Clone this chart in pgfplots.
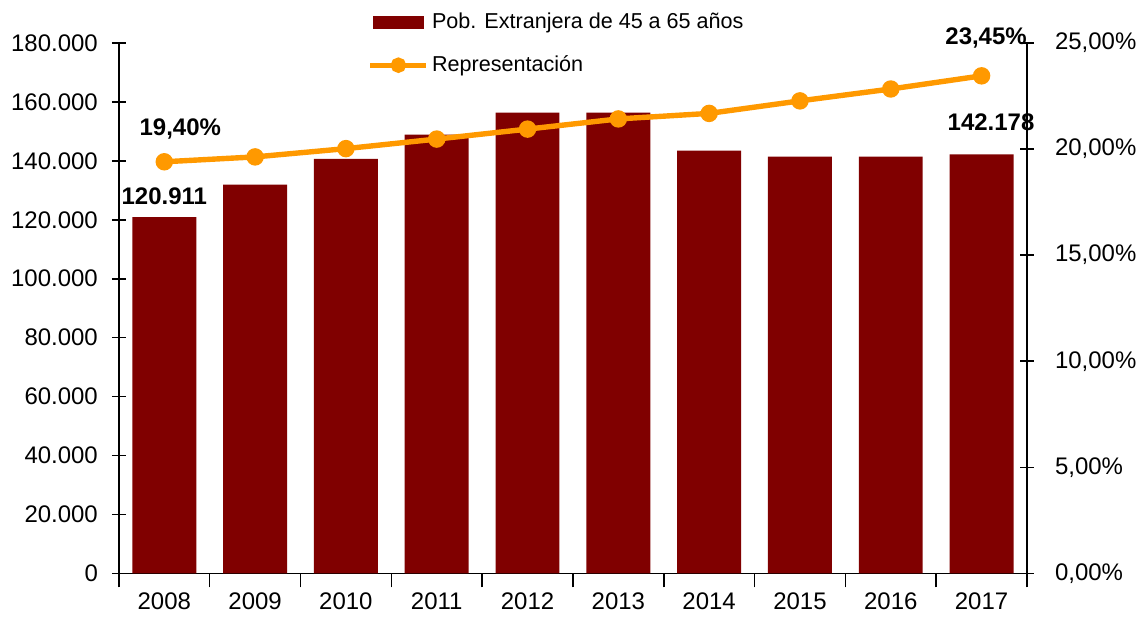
\documentclass[border=0pt]{standalone}
\usepackage{fontspec}
\setmainfont{Liberation Sans}
\usepackage{pgfplots}
\usepackage{pgfplotstable}
\pgfplotsset{compat=1.18}
\definecolor{barc}{HTML}{800000}
\definecolor{linec}{HTML}{FF9900}

\pgfplotstableread{
x pob rep
0 120911 19.40
1 131900 19.63
2 140700 20.02
3 148900 20.47
4 156400 20.94
5 156400 21.42
6 143500 21.68
7 141400 22.27
8 141400 22.83
9 142178 23.45
}\datatable

\pgfplotsset{
  base/.style={
    scale only axis, width=454.5pt, height=265.5pt,
    xmin=-0.5, xmax=9.5, clip=false,
    tick align=center, major tick length=7pt,
    tick style={black, line width=0.8pt},
    axis line style={black, line width=0.8pt},
    tick label style={font=\fontsize{12}{14}\selectfont},
  },
}

\begin{document}
\begin{tikzpicture}
\begin{axis}[base,
  ymin=0, ymax=180000,
  axis x line*=bottom, axis y line*=left,
  scaled y ticks=false,
  ytick={0,20000,40000,60000,80000,100000,120000,140000,160000,180000},
  yticklabels={0,20.000,40.000,60.000,80.000,100.000,120.000,140.000,160.000,180.000},
  yticklabel style={xshift=-3.5pt},
  xtick={-0.5,0.5,...,9.5}, xticklabels={},
  extra x ticks={0,...,9},
  extra x tick labels={2008,2009,2010,2011,2012,2013,2014,2015,2016,2017},
  extra x tick style={major tick length=0pt, tick label style={yshift=-6pt}},
  ybar, bar width=32pt,
]
\addplot[fill=barc, draw=none] table[x=x, y=pob] {\datatable};
\node[anchor=base, inner sep=0pt, font=\bfseries\fontsize{12}{14}\selectfont, yshift=6.2pt] at (axis cs:0,120911) {120.911};
\node[anchor=base, inner sep=0pt, font=\bfseries\fontsize{12}{14}\selectfont, xshift=4.75pt, yshift=11.8pt] at (axis cs:9,142178) {142.178};
\end{axis}

\begin{axis}[base,
  ymin=0, ymax=25,
  axis x line=none, axis y line*=right,
  ytick={0,5,10,15,20,25},
  yticklabels={{0,00\%},{5,00\%},{10,00\%},{15,00\%},{20,00\%},{25,00\%}},
  yticklabel style={xshift=7pt},
  legend style={draw=none, fill=none, at={(0.267,1.072)}, anchor=north west,
    font=\fontsize{10.8}{12}\selectfont, row sep=8pt, nodes={inner xsep=1.5pt}},
  legend cell align=left,
]
\addlegendimage{legend image code/.code={\fill[barc] (0pt,-3pt) rectangle (25pt,3pt);}}
\addlegendentry{Pob. Extranjera de 45 a 65 años}
\addplot[linec, line width=2.7pt, mark=*, mark size=3pt, mark options={fill=linec, draw=linec},
  legend image code/.code={\draw[linec, line width=2.7pt] (-1.5pt,0pt) -- (26.5pt,0pt); \fill[linec] (12.5pt,0pt) circle (2.5pt);}]
  table[x=x, y=rep] {\datatable};
\addlegendentry{Representación}
\node[anchor=base, inner sep=0pt, font=\bfseries\fontsize{12}{14}\selectfont, xshift=8pt, yshift=13pt] at (axis cs:0,19.40) {19,40\%};
\node[anchor=base, inner sep=0pt, font=\bfseries\fontsize{12}{14}\selectfont, xshift=2.25pt, yshift=15.5pt] at (axis cs:9,23.45) {23,45\%};
\end{axis}
\path (-59.5pt,-20.5pt) rectangle (512pt,287pt);
\end{tikzpicture}
\end{document}
